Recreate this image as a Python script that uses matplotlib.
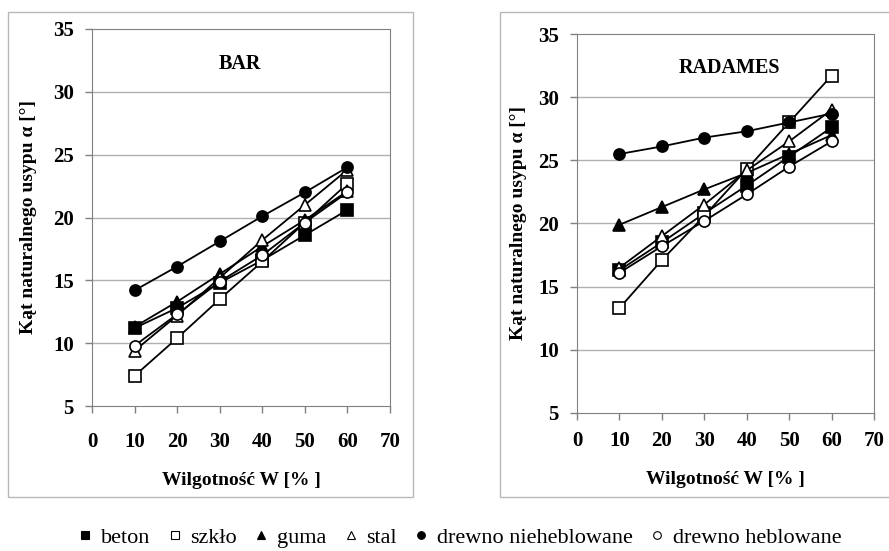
import matplotlib.pyplot as plt
from matplotlib.patches import Rectangle
from matplotlib.lines import Line2D

W, H = 889, 551

wilg = [10, 20, 30, 40, 50, 60]

# BAR
bar_beton = [11.2, 12.8, 14.8, 16.6, 18.6, 20.6]
bar_szklo = [7.4, 10.4, 13.5, 16.5, 19.6, 22.7]
bar_guma = [11.3, 13.3, 15.5, 17.7, 19.8, 22.1]
bar_stal = [9.4, 12.2, 15.2, 18.2, 21.0, 23.8]
bar_nieheb = [14.2, 16.1, 18.1, 20.1, 22.0, 24.0]
bar_heb = [9.8, 12.3, 14.9, 17.0, 19.6, 22.0]

# RADAMES
rad_beton = [16.3, 18.5, 20.8, 23.0, 25.3, 27.6]
rad_szklo = [13.3, 17.1, 20.6, 24.3, 28.0, 31.7]
rad_guma = [19.9, 21.3, 22.7, 24.0, 25.5, 27.0]
rad_stal = [16.5, 19.0, 21.5, 24.2, 26.5, 29.0]
rad_nieheb = [25.5, 26.1, 26.8, 27.3, 28.0, 28.7]
rad_heb = [16.1, 18.2, 20.2, 22.3, 24.5, 26.5]

names = ["beton", "szkło", "guma", "stal", "drewno nieheblowane", "drewno heblowane"]
markers = ["s", "s", "^", "^", "o", "o"]
filled = [True, False, True, False, True, False]

serif = ["Liberation Serif", "DejaVu Serif"]
plt.rcParams["font.family"] = serif

fig = plt.figure(figsize=(W / 100, H / 100), dpi=100)


def px(x0, y0, x1, y1):
    return [x0 / W, 1 - y1 / H, (x1 - x0) / W, (y1 - y0) / H]


# outer frames of the two charts
for x0, x1 in [(8, 413), (500, 900)]:
    fig.patches.append(Rectangle((x0 / W, 1 - 497 / H), (x1 - x0) / W, 485 / H,
                                 transform=fig.transFigure, fill=False,
                                 edgecolor="#b8b8b8", lw=1))


def draw(ax, series, title, tx, ty, xpad, ylab_x, xlab_pad):
    for ys, m, f in zip(series, markers, filled):
        ax.plot(wilg, ys, color="black", lw=1.3, marker=m, ms=8 if m != "^" else 9,
                markerfacecolor="black" if f else "white",
                markeredgecolor="black", markeredgewidth=1.2, zorder=3)
    ax.set_xlim(0, 70)
    ax.set_ylim(5, 35)
    ax.set_xticks(range(0, 71, 10))
    ax.set_yticks(range(5, 36, 5))
    for y in range(10, 35, 5):
        ax.axhline(y, color="#b0b0b0", lw=1, zorder=1)
    for s in ax.spines.values():
        s.set_color("#808080")
    ax.tick_params(axis="both", colors="#808080", length=5, width=1,
                   labelcolor="black", labelsize=15)
    ax.tick_params(axis="x", pad=xpad)
    ax.tick_params(axis="y", pad=8)
    for lab in ax.get_xticklabels() + ax.get_yticklabels():
        lab.set_fontweight("bold")
    ax.text(tx, ty, title, ha="center", va="center", fontsize=14.5, fontweight="bold")
    ax.set_xlabel("Wilgotność W [% ]", fontsize=14, fontweight="bold", labelpad=xlab_pad)
    ax.set_ylabel("Kąt naturalnego usypu α [°]", fontsize=14, fontweight="bold")
    ax.yaxis.set_label_coords(ylab_x, 0.5)


ax1 = fig.add_axes(px(92, 29, 390, 406))
draw(ax1, [bar_beton, bar_szklo, bar_guma, bar_stal, bar_nieheb, bar_heb],
     "BAR", 34.8, 32.2, 14, -0.185, 14)

ax2 = fig.add_axes(px(577, 34, 874, 413))
draw(ax2, [rad_beton, rad_szklo, rad_guma, rad_stal, rad_nieheb, rad_heb],
     "RADAMES", 36, 32.3, 8, -0.168, 14)

handles = [Line2D([], [], ls="none", marker=m, ms=5.5,
                  markerfacecolor="black" if f else "white",
                  markeredgecolor="black", markeredgewidth=0.8)
           for m, f in zip(markers, filled)]
fig.legend(handles, names, loc="center", bbox_to_anchor=(460 / W, 1 - 538 / H),
           ncol=6, frameon=False, fontsize=16, handlelength=0.6,
           handletextpad=0.4, columnspacing=0.8)

fig.savefig("out.png", dpi=100)
